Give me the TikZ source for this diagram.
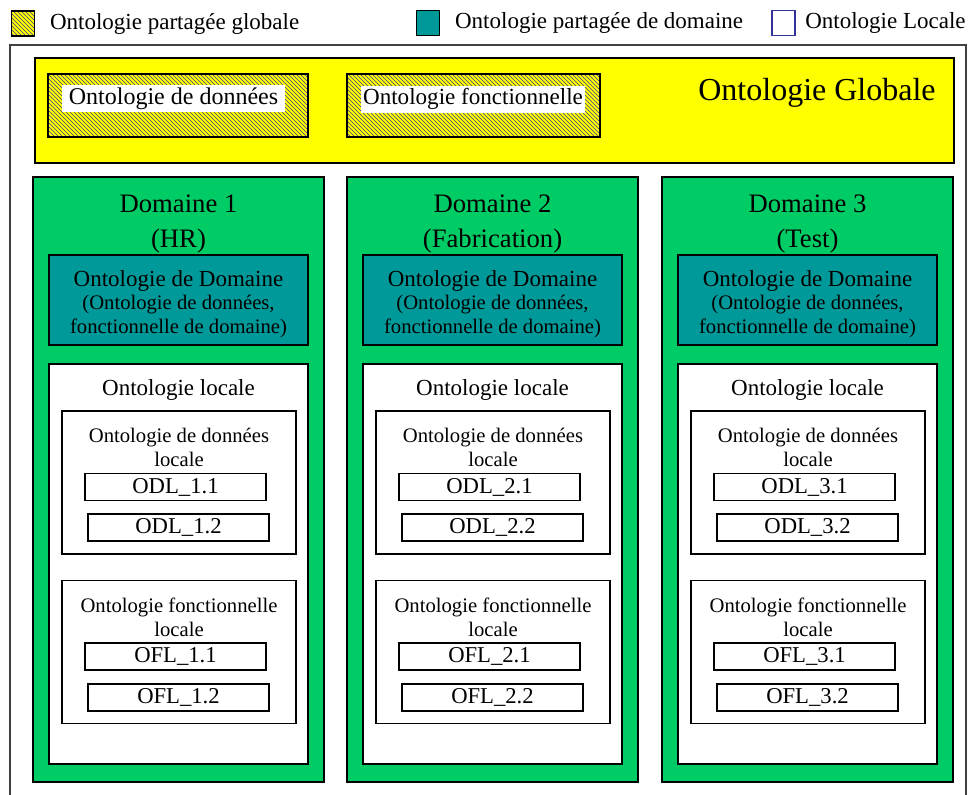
\documentclass[tikz,border=0pt]{standalone}
\usepackage{fontspec}
\setmainfont{Liberation Serif}
\usepackage{tikz}
\usetikzlibrary{patterns, positioning}
\definecolor{globyellow}{HTML}{FFFF00}
\definecolor{domgreen}{HTML}{00CC66}
\definecolor{domteal}{HTML}{009999}
\definecolor{hatchblue}{HTML}{3C3C88}
\definecolor{locblue}{HTML}{333399}
\definecolor{framegray}{HTML}{404040}

\begin{document}
\begin{tikzpicture}[
  x=0.75pt, y=-0.75pt,
  sz/.style 2 args={minimum width=#1*0.75pt, minimum height=#2*0.75pt},
  box/.style={rectangle, draw=black, line width=1pt, inner sep=0pt},
  hatchbox/.style={box, preaction={fill=globyellow}, pattern=north west lines,
                   pattern color=hatchblue},
  globbox/.style={box, fill=globyellow},
  dombox/.style={box, fill=domgreen, sz={291}{605}},
  tealbox/.style={box, fill=domteal, sz={259}{90}},
  locbox/.style={box, fill=white, sz={259}{400}},
  subbox/.style={box, line width=0.8pt, fill=white, sz={234}{143}},
  itembox/.style={box, line width=0.8pt, fill=white, sz={181}{27},
                  font=\fontsize{17}{20}\selectfont},
  txt/.style={inner sep=0pt, align=center, font=\fontsize{17.25}{21}\selectfont},
  smalltxt/.style={inner sep=0pt, align=center, font=\fontsize{15.5}{18}\selectfont},
  titletxt/.style={inner sep=0pt, align=center, font=\fontsize{20}{26.25}\selectfont},
  legsq/.style={box, sz={23}{25}}
]
  \useasboundingbox (0,0) rectangle (969,794);

  % legend
  \node[legsq, hatchbox] (leghatch) at (23,23.5) {};
  \node[txt, right=11pt of leghatch] (legglob) {Ontologie partagée globale};
  \node[legsq, fill=domteal] (legteal) at (428,23) {};
  \node[txt, right=11pt of legteal] (legdom) {Ontologie partagée de domaine};
  \node[legsq, draw=locblue, fill=white] (legwhite) at (783.5,23) {};
  \node[txt, right=7pt of legwhite] (legloc) {Ontologie Locale};

  % outer frame, open at the bottom
  \draw[framegray, line width=1.2pt] (10,800) -- (10,45) -- (966,45) -- (966,800);

  % global ontology
  \node[globbox, sz={919}{105}] (glob) at (494.5,110.5) {};
  \node[inner sep=0pt, font=\fontsize{24}{28}\selectfont] (globtitle) at (817,93) {Ontologie Globale};
  \node[hatchbox, sz={260}{63}] (globdata) at (178,105.5) {};
  \node[txt, fill=white, sz={223}{27}, font=\fontsize{18}{21}\selectfont] (globdatatxt) at (173.5,98.5) {Ontologie de données};
  \node[hatchbox, sz={253}{63}] (globfct) at (473.5,105.5) {};
  \node[txt, fill=white, sz={224}{27}, font=\fontsize{17.3}{21}\selectfont] (globfcttxt) at (473,99) {Ontologie fonctionnelle};

  % domains
  \foreach \d/\dname/\dx in {1/HR/0, 2/Fabrication/314, 3/Test/629} {
    \node[dombox] (dom\d) at (178.5+\dx,479.5) {};
    \node[titletxt] (domtitle\d) at (178.5+\dx,223.5) {Domaine \d\\(\dname)};
    \node[tealbox] (domont\d) at (178.5+\dx,300) {};
    \node[smalltxt, font=\fontsize{15.5}{17.6}\selectfont] (domonttxt\d) at (178.5+\dx,304)
      {{\fontsize{17.25}{17.6}\selectfont Ontologie de Domaine}\\(Ontologie de données,\\fonctionnelle de domaine)};
    \node[locbox] (loc\d) at (178.5+\dx,564) {};
    \node[txt] (loctitle\d) at (178.5+\dx,390) {Ontologie locale};
    % data ontology
    \node[subbox] (odl\d) at (179+\dx,482.5) {};
    \node[smalltxt] (odltitle\d) at (179+\dx,447.5) {Ontologie de données\\locale};
    \node[itembox] (odl\d-1) at (175.5+\dx,487) {ODL\_\d.1};
    \node[itembox] (odl\d-2) at (178.5+\dx,527.5) {ODL\_\d.2};
    % functional ontology
    \node[subbox] (ofl\d) at (179+\dx,652) {};
    \node[smalltxt] (ofltitle\d) at (179+\dx,617) {Ontologie fonctionnelle\\locale};
    \node[itembox] (ofl\d-1) at (175.5+\dx,656.5) {OFL\_\d.1};
    \node[itembox] (ofl\d-2) at (178.5+\dx,697.5) {OFL\_\d.2};
  }
\end{tikzpicture}
\end{document}
